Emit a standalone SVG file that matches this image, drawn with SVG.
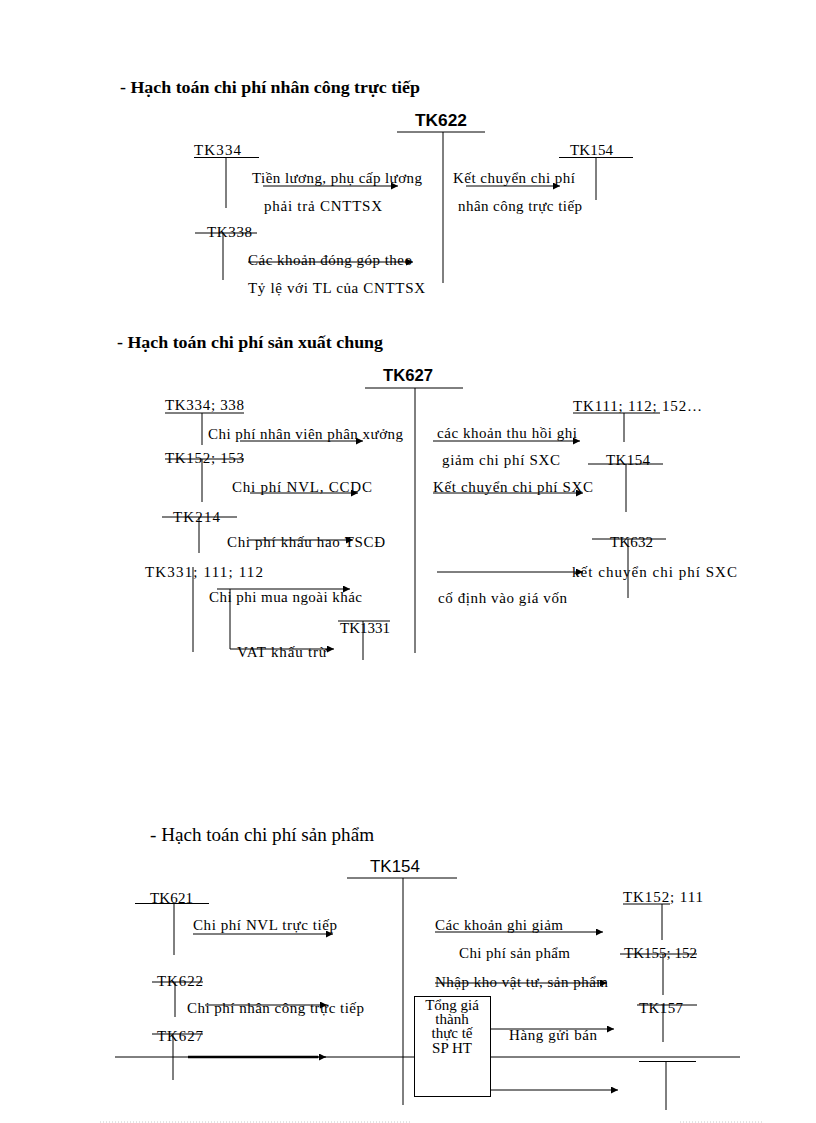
<svg xmlns="http://www.w3.org/2000/svg" width="816" height="1123" viewBox="0 0 816 1123">
<defs>
<style>
.t{font-family:"Liberation Serif","Times New Roman",serif;font-size:15px;fill:#000}
.h{font-family:"Liberation Serif","Times New Roman",serif;font-size:16.5px;font-weight:bold;fill:#000}
.h3{font-family:"Liberation Serif","Times New Roman",serif;font-size:18.5px;fill:#000}
.k{font-family:"Liberation Sans",Arial,sans-serif;font-size:16px;font-weight:bold;fill:#000}
.k3{font-family:"Liberation Sans",Arial,sans-serif;font-size:17px;fill:#000}
.bx{font-family:"Liberation Serif","Times New Roman",serif;font-size:15px;fill:#000;text-anchor:middle}
line,path,rect{stroke:#000;stroke-width:1;fill:none}
.a{marker-end:url(#ah)}
.thick{stroke-width:2.5}
.dot{stroke:#c8c8c8;stroke-dasharray:1 2}
</style>
<marker id="ah" viewBox="0 0 10 10" refX="10" refY="5" markerWidth="9" markerHeight="7" markerUnits="userSpaceOnUse" orient="auto">
<path d="M0,0 L10,5 L0,10 z" style="fill:#000;stroke:none"/>
</marker>
</defs>

<!-- Section 1 -->
<text class="h" x="120" y="93" textLength="300" lengthAdjust="spacingAndGlyphs">- Hạch toán chi phí nhân công trực tiếp</text>

<g id="tk622">
<text class="k" x="415" y="126" textLength="52" lengthAdjust="spacingAndGlyphs">TK622</text>
<line x1="397" y1="132" x2="485" y2="132"/>
<line x1="443" y1="132" x2="443" y2="283"/>
</g>
<g id="tk334">
<text class="t" x="194" y="155" textLength="47">TK334</text>
<line x1="194" y1="157.5" x2="259" y2="157.5"/>
<line x1="226" y1="157.5" x2="226" y2="208"/>
</g>
<g id="tk154a">
<text class="t" x="570" y="155" textLength="43">TK154</text>
<line x1="559" y1="157.5" x2="633" y2="157.5"/>
<line x1="596" y1="157.5" x2="596" y2="200"/>
</g>
<g id="tk338">
<text class="t" x="207" y="237" textLength="45">TK338</text>
<line x1="195" y1="233" x2="257" y2="233"/>
<line x1="223" y1="233" x2="223" y2="280"/>
</g>

<g id="labels1">
<text class="t" x="252" y="183" textLength="170">Tiền lương, phụ cấp lương</text>
<text class="t" x="264" y="211" textLength="118">phải trả CNTTSX</text>
<text class="t" x="453" y="183" textLength="122">Kết chuyển chi phí</text>
<text class="t" x="458" y="211" textLength="124">nhân công trực tiếp</text>
<text class="t" x="248" y="265" textLength="164">Các khoản đóng góp theo</text>
<text class="t" x="248" y="293" textLength="177">Tỷ lệ với TL của CNTTSX</text>
</g>

<g id="connectors1">
<line class="a" x1="263" y1="186" x2="398" y2="186"/>
<line class="a" x1="466" y1="186" x2="560" y2="186"/>
<line class="a" x1="248" y1="262" x2="413" y2="262"/>
</g>

<!-- Section 2 -->
<text class="h" x="117" y="348" textLength="266" lengthAdjust="spacingAndGlyphs">- Hạch toán chi phí sản xuất chung</text>

<g id="tk627">
<text class="k" x="383" y="381" textLength="50" lengthAdjust="spacingAndGlyphs">TK627</text>
<line x1="365" y1="388" x2="463" y2="388"/>
<line x1="415" y1="388" x2="415" y2="653"/>
</g>
<g id="tk334-338">
<text class="t" x="165" y="410" textLength="79">TK334; 338</text>
<line x1="165" y1="413" x2="244" y2="413"/>
<line x1="202" y1="413" x2="202" y2="445"/>
</g>
<g id="tk152-153">
<text class="t" x="165" y="463" textLength="79">TK152; 153</text>
<line x1="165" y1="459" x2="244" y2="459"/>
<line x1="202" y1="459" x2="202" y2="502"/>
</g>
<g id="tk214">
<text class="t" x="173" y="522" textLength="47">TK214</text>
<line x1="162" y1="517" x2="237" y2="517"/>
<line x1="199" y1="517" x2="199" y2="553"/>
</g>
<g id="tk331">
<text class="t" x="145" y="577" textLength="118">TK331; 111; 112</text>
<line x1="193" y1="567" x2="193" y2="652"/>
</g>
<g id="tk1331">
<text class="t" x="340" y="633" textLength="50">TK1331</text>
<line x1="338" y1="621" x2="390" y2="621"/>
<line x1="363" y1="621" x2="363" y2="660"/>
</g>
<g id="tk111">
<text class="t" x="573" y="411" textLength="129">TK111; 112; 152…</text>
<line x1="573" y1="413" x2="660" y2="413"/>
<line x1="624" y1="413" x2="624" y2="442"/>
</g>
<g id="tk154b">
<text class="t" x="606" y="465" textLength="44">TK154</text>
<line x1="588" y1="464" x2="663" y2="464"/>
<line x1="626" y1="464" x2="626" y2="512"/>
</g>
<g id="tk632">
<text class="t" x="610" y="547" textLength="43">TK632</text>
<line x1="592" y1="539" x2="666" y2="539"/>
<line x1="628" y1="539" x2="628" y2="598"/>
</g>

<g id="labels2">
<text class="t" x="208" y="439" textLength="195">Chi phí nhân viên phân xưởng</text>
<text class="t" x="232" y="492" textLength="140">Chi phí NVL, CCDC</text>
<text class="t" x="227" y="547" textLength="158">Chi phí khấu hao TSCĐ</text>
<text class="t" x="209" y="602" textLength="153">Chi phi mua ngoài khác</text>
<text class="t" x="237" y="657" textLength="90">VAT khấu trừ</text>
<text class="t" x="437" y="438" textLength="140">các khoản thu hồi ghi</text>
<text class="t" x="442" y="465" textLength="118">giảm chi phí SXC</text>
<text class="t" x="433" y="492" textLength="160">Kết chuyển chi phí SXC</text>
<text class="t" x="572" y="577" textLength="165">kết chuyển chi phí SXC</text>
<text class="t" x="438" y="603" textLength="129">cố định vào giá vốn</text>
</g>

<g id="connectors2">
<line class="a" x1="240" y1="441" x2="363" y2="441"/>
<line class="a" x1="250" y1="493" x2="358" y2="493"/>
<line class="a" x1="248" y1="540" x2="353" y2="540"/>
<line class="a" x1="217" y1="589" x2="350" y2="589"/>
<line x1="230" y1="589" x2="230" y2="649"/>
<line class="a" x1="230" y1="649" x2="334" y2="649"/>
<line class="a" x1="433" y1="441" x2="580" y2="441"/>
<line class="a" x1="433" y1="493" x2="583" y2="493"/>
<line class="a" x1="437" y1="572" x2="583" y2="572"/>
</g>

<!-- Section 3 -->
<text class="h3" x="150" y="841" textLength="224" lengthAdjust="spacingAndGlyphs">- Hạch toán chi phí sản phẩm</text>

<g id="tk154c">
<text class="k3" x="370" y="872" textLength="50" lengthAdjust="spacingAndGlyphs">TK154</text>
<line x1="347" y1="878" x2="457" y2="878"/>
<line x1="403" y1="878" x2="403" y2="1105"/>
</g>
<g id="tk621">
<text class="t" x="150" y="903" textLength="43">TK621</text>
<line x1="135" y1="903.5" x2="209" y2="903.5"/>
<line x1="174" y1="903.5" x2="174" y2="955"/>
</g>
<g id="tk622b">
<text class="t" x="157" y="986" textLength="46">TK622</text>
<line x1="152" y1="982" x2="203" y2="982"/>
<line x1="175" y1="982" x2="175" y2="1017"/>
</g>
<g id="tk627b">
<text class="t" x="157" y="1041" textLength="46">TK627</text>
<line x1="152" y1="1034" x2="203" y2="1034"/>
<line x1="173" y1="1034" x2="173" y2="1080"/>
</g>
<g id="box">
<rect x="414.5" y="996.5" width="76" height="100"/>
<text class="bx" x="452" y="1010">Tổng giá</text>
<text class="bx" x="452" y="1024">thành</text>
<text class="bx" x="452" y="1038">thực tế</text>
<text class="bx" x="452" y="1053">SP HT</text>
</g>
<g id="tk152-111">
<text class="t" x="623" y="902" textLength="80">TK152; 111</text>
<line x1="623" y1="904" x2="670" y2="904"/>
<line x1="662" y1="904" x2="662" y2="940"/>
</g>
<g id="tk155-152">
<text class="t" x="624" y="958" textLength="73">TK155; 152</text>
<line x1="620" y1="954" x2="697" y2="954"/>
<line x1="663" y1="954" x2="663" y2="995"/>
</g>
<g id="tk157">
<text class="t" x="639" y="1013" textLength="44">TK157</text>
<line x1="637" y1="1005" x2="697" y2="1005"/>
<line x1="663" y1="1005" x2="663" y2="1042"/>
</g>
<g id="tk-unnamed">
<line x1="639" y1="1061.5" x2="696" y2="1061.5"/>
<line x1="666" y1="1061.5" x2="666" y2="1110"/>
</g>

<g id="labels3">
<text class="t" x="193" y="930" textLength="144">Chi phí NVL trực tiếp</text>
<text class="t" x="187" y="1013" textLength="177">Chi phí nhân công trực tiếp</text>
<text class="t" x="435" y="930" textLength="128">Các khoản ghi giảm</text>
<text class="t" x="459" y="958" textLength="111">Chi phí sản phẩm</text>
<text class="t" x="435" y="987" textLength="173">Nhập kho vật tư, sản phẩm</text>
<text class="t" x="509" y="1040" textLength="88">Hàng gửi bán</text>
</g>

<g id="connectors3">
<line class="a" x1="193" y1="934" x2="333" y2="934"/>
<line class="a" x1="205" y1="1005" x2="327" y2="1005"/>
<line x1="115" y1="1057" x2="414" y2="1057"/>
<line x1="491" y1="1057" x2="740" y2="1057"/>
<line class="thick" x1="188" y1="1057" x2="318" y2="1057"/>
<line class="a" x1="318" y1="1057" x2="326" y2="1057"/>
<line class="a" x1="435" y1="932" x2="603" y2="932"/>
<line class="a" x1="435" y1="983" x2="607" y2="983"/>
<line class="a" x1="491" y1="1029" x2="614" y2="1029"/>
<line class="a" x1="491" y1="1090" x2="618" y2="1090"/>
</g>

<g id="page-edge">
<line class="dot" x1="100" y1="1122" x2="410" y2="1122"/>
<line class="dot" x1="680" y1="1122" x2="762" y2="1122"/>
</g>
</svg>
